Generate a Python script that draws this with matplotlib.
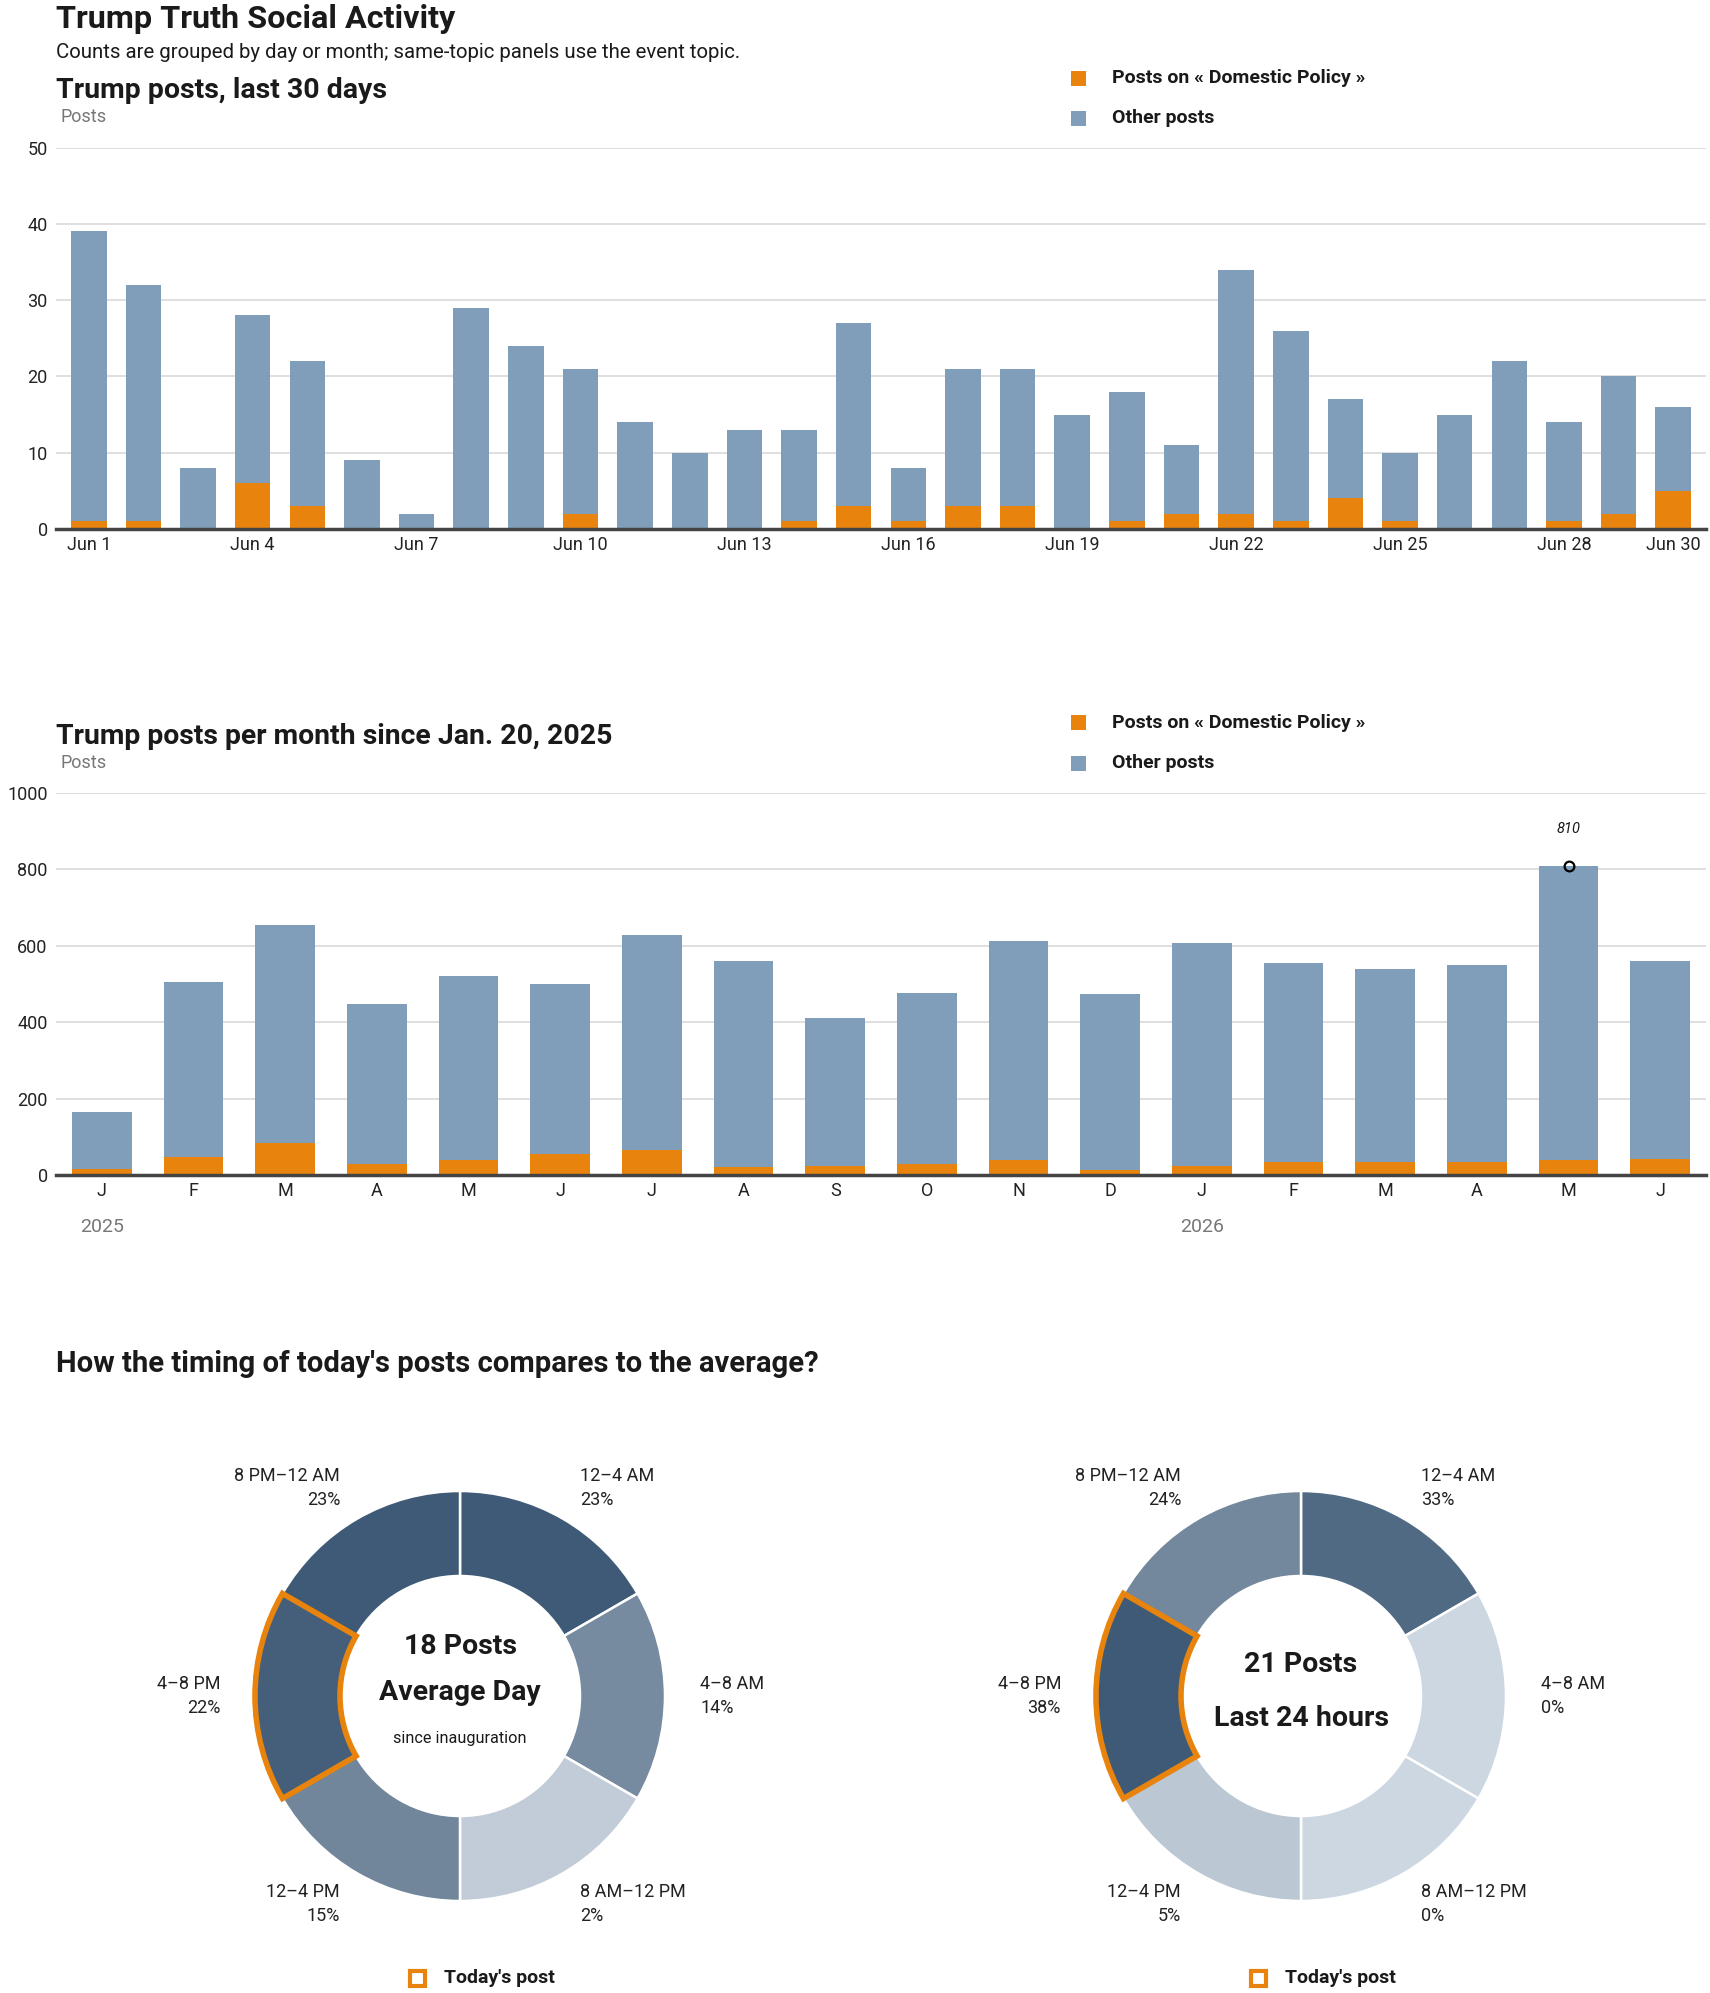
import numpy as np
import matplotlib
matplotlib.use("Agg")
import matplotlib.pyplot as plt
from matplotlib.colors import LinearSegmentedColormap
from matplotlib.patches import Rectangle

plt.rcParams['font.family'] = ['Roboto', 'DejaVu Sans']

# ---- data ----
days = [f"Jun {d}" for d in range(1, 31)]
daily_total = [39, 32, 8, 28, 22, 9, 2, 29, 24, 21, 14, 10, 13, 13, 27,
               8, 21, 21, 15, 18, 11, 34, 26, 17, 10, 15, 22, 14, 20, 16]
daily_topic = [1, 1, 0, 6, 3, 0, 0, 0, 0, 2, 0, 0, 0, 1, 3,
               1, 3, 3, 0, 1, 2, 2, 1, 4, 1, 0, 0, 1, 2, 5]
day_tick_idx = [0, 3, 6, 9, 12, 15, 18, 21, 24, 27, 29]

months = ["J", "F", "M", "A", "M", "J", "J", "A", "S", "O", "N", "D",
          "J", "F", "M", "A", "M", "J"]
monthly_total = [165, 504, 654, 447, 520, 499, 628, 559, 412, 477, 612, 473,
                 607, 556, 538, 549, 810, 559]
monthly_topic = [17, 47, 83, 30, 39, 56, 66, 21, 24, 30, 38, 13,
                 24, 34, 34, 34, 38, 43]
years = ["2025", "2026"]
year_start_idx = [0, 12]

slots = ["12–4 AM", "4–8 AM", "8 AM–12 PM", "12–4 PM", "4–8 PM", "8 PM–12 AM"]
avg_share = [23, 14, 2, 15, 22, 23]
today_share = [33, 0, 0, 5, 38, 24]
avg_posts = 18
today_posts = 21
current_slot = "4–8 PM"

topic = "Domestic Policy"

# ---- style ----
ORANGE = '#e8830e'
BLUE = '#809eb9'
GRID = '#dcdcdc'
INK = '#1a1a1a'
GRAY = '#777777'

W, H = 1710, 1993
fig = plt.figure(figsize=(W / 100, H / 100), dpi=100)


def box(x0, y0, x1, y1):
    # pixel box (top-left origin) -> figure fraction rect
    return [x0 / W, 1 - y1 / H, (x1 - x0) / W, (y1 - y0) / H]


def ftext(x, y, s, **kw):
    return fig.text(x / W, 1 - y / H, s, **kw)


def heading(x, y, s, size):
    return ftext(x, y, s, fontsize=size, fontweight='bold', color=INK, va='baseline')


def legend_item(x, y, label, color, hollow=False, gap=41, size=14):
    s = 15
    if hollow:
        sq = Rectangle((x / W, 1 - (y + s / 2) / H), s / W, s / H,
                       transform=fig.transFigure, facecolor='white',
                       edgecolor=color, linewidth=3)
    else:
        sq = Rectangle((x / W, 1 - (y + s / 2) / H), s / W, s / H,
                       transform=fig.transFigure, facecolor=color, edgecolor='none')
    fig.add_artist(sq)
    ftext(x + gap, y, label, va='center', ha='left', fontsize=size,
          fontweight='bold', color=INK)


def style_bars(ax, ymax, step):
    ax.set_ylim(0, ymax)
    ax.set_yticks(np.arange(0, ymax + 1, step))
    ax.grid(axis='y', color=GRID, linewidth=1.3)
    ax.set_axisbelow(True)
    for s in ['top', 'right', 'left']:
        ax.spines[s].set_visible(False)
    ax.spines['bottom'].set_color('#444444')
    ax.spines['bottom'].set_linewidth(2.5)
    ax.tick_params(axis='both', length=0, labelsize=13, colors='#222222')
    ax.tick_params(axis='y', pad=6)
    ax.tick_params(axis='x', pad=5)


# ---- headers ----
heading(56, 28, "Trump Truth Social Activity", 23.3)
ftext(56, 58, "Counts are grouped by day or month; same-topic panels use the event topic.",
      fontsize=14.7, color=INK, va='baseline')

# ---- chart 1: daily ----
heading(56, 98, "Trump posts, last 30 days", 20.5)
ftext(60, 122, "Posts", fontsize=13, color=GRAY, va='baseline')
legend_item(1071, 78, f"Posts on « {topic} »", ORANGE)
legend_item(1071, 118, "Other posts", BLUE)

ax1 = fig.add_axes(box(56, 147.5, 1706, 529))
x = np.arange(len(days))
d_topic = np.array(daily_topic)
d_other = np.array(daily_total) - d_topic
ax1.bar(x, d_topic, width=0.65, color=ORANGE)
ax1.bar(x, d_other, bottom=d_topic, width=0.65, color=BLUE)
style_bars(ax1, 50, 10)
ax1.set_xlim(-0.6, len(days) - 0.4)
ax1.set_xticks(day_tick_idx)
ax1.set_xticklabels([days[i] for i in day_tick_idx])

# ---- chart 2: monthly ----
heading(56, 744, "Trump posts per month since Jan. 20, 2025", 20.4)
ftext(60, 768, "Posts", fontsize=13, color=GRAY, va='baseline')
legend_item(1071, 723, f"Posts on « {topic} »", ORANGE)
legend_item(1071, 763, "Other posts", BLUE)

ax2 = fig.add_axes(box(56, 793, 1706, 1175))
m = np.arange(len(months))
m_topic = np.array(monthly_topic)
m_other = np.array(monthly_total) - m_topic
ax2.bar(m, m_topic, width=0.65, color=ORANGE)
ax2.bar(m, m_other, bottom=m_topic, width=0.65, color=BLUE)
style_bars(ax2, 1000, 200)
ax2.set_xlim(-0.5, len(months) - 0.5)
ax2.set_xticks(m)
ax2.set_xticklabels(months)
for yr, i in zip(years, year_start_idx):
    ax2.annotate(yr, xy=(i, 0), xycoords=('data', 'axes fraction'),
                 xytext=(0, -52), textcoords='offset pixels',
                 ha='center', va='center', fontsize=14, color=GRAY)
peak = int(np.argmax(monthly_total))
ax2.plot(peak, monthly_total[peak], 'o', mfc='none', mec='black', ms=7, mew=1.6)
ax2.annotate(str(monthly_total[peak]), xy=(peak, monthly_total[peak]),
             xytext=(0, 37), textcoords='offset pixels', ha='center', va='center',
             fontsize=10.5, fontstyle='italic', color=INK)

# ---- chart 3: donuts ----
heading(56, 1372, "How the timing of today's posts compares to the average?", 21.1)

cmap = LinearSegmentedColormap.from_list('slots', ['#cdd7e1', '#3f5a76'])
CY = 1696
R_OUT, R_IN, R_LAB = 205, 120, 240


def donut(cx, shares, lines):
    ax = fig.add_axes(box(cx - 290, CY - 290, cx + 290, CY + 290))
    top = max(shares)
    colors = [cmap(s / top if top else 0) for s in shares]
    wedges, _ = ax.pie([1] * len(shares), radius=R_OUT, startangle=90,
                       counterclock=False, colors=colors,
                       wedgeprops=dict(width=R_OUT - R_IN, edgecolor='white',
                                       linewidth=1.8))
    ax.set_xlim(-290, 290)
    ax.set_ylim(-290, 290)
    ax.set_aspect('equal')
    ax.axis('off')
    for w, name, s in zip(wedges, slots, shares):
        mid = np.deg2rad((w.theta1 + w.theta2) / 2)
        lx, ly = R_LAB * np.cos(mid), R_LAB * np.sin(mid)
        ha = 'left' if lx > 1 else 'right'
        ax.text(lx, ly, f"{name}\n{s}%", ha=ha, va='center', multialignment=ha,
                fontsize=13, color='#222222', linespacing=1.45)
        if name == current_slot:
            w.set_edgecolor(ORANGE)
            w.set_linewidth(4)
            w.set_joinstyle('miter')
            w.set_zorder(5)
    for dy, s, size, weight in lines:
        ax.text(0, -dy, s, ha='center', va='center', fontsize=size,
                fontweight=weight, color=INK)
    legend_item(cx - 50, 1978, "Today's post", ORANGE, hollow=True, gap=34)


donut(460, avg_share, [(-50, f"{avg_posts} Posts", 20.5, 'bold'),
                       (-4, "Average Day", 20.5, 'bold'),
                       (42, "since inauguration", 11.7, 'normal')])
donut(1301, today_share, [(-32, f"{today_posts} Posts", 20.5, 'bold'),
                          (23, "Last 24 hours", 20.5, 'bold')])

fig.savefig("out.png", dpi=100)
